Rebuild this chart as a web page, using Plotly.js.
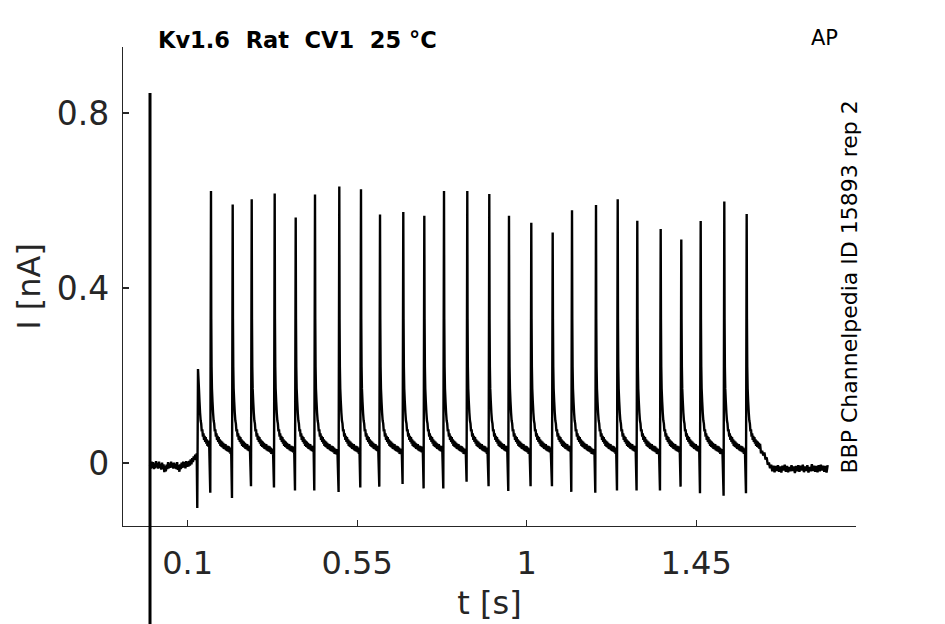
<!DOCTYPE html>
<html>
<head>
<meta charset="utf-8">
<script src="https://cdn.plot.ly/plotly-3.0.1.min.js"></script>
<style>html,body{margin:0;padding:0;background:#fff;}#chart{width:945px;height:624px;}</style>
</head>
<body>
<div id="chart"></div>
<script>
// ---- data ----
const xTickVals = [0.1, 0.55, 1, 1.45];
const xTickText = ["0.1", "0.55", "1", "1.45"];
const yTickVals = [0, 0.4, 0.8];
const yTickText = ["0", "0.4", "0.8"];

// stimulus artifact at t = 0
const artifactT = 0;
const artifactTop = 0.846;
const artifactBottom = -0.40;

// pre-stimulus baseline
const preT = [0.000,0.002,0.004,0.006,0.008,0.010,0.012,0.014,0.016,0.018,
  0.020,0.022,0.024,0.026,0.028,0.030,0.032,0.034,0.036,0.038,
  0.040,0.042,0.044,0.046,0.048,0.050,0.052,0.054,0.056,0.058,
  0.060,0.062,0.064,0.066,0.068,0.070,0.072,0.074,0.076,0.078,
  0.080,0.082,0.084,0.086,0.088,0.090,0.092,0.094,0.096,0.098,
  0.100,0.102,0.104,0.106,0.108,0.110,0.112,0.114,0.116,0.118,
  0.120,0.122,0.124];
const preI = [-0.004,-0.013,0.003,-0.011,0.002,-0.014,-0.001,-0.012,0.004,-0.010,
  0.000,-0.013,0.003,-0.011,-0.002,-0.015,0.001,-0.013,-0.003,-0.021,
  -0.007,-0.019,-0.004,-0.014,0.002,-0.012,-0.001,-0.011,0.003,-0.010,
  0.000,-0.013,0.001,-0.012,-0.002,-0.014,0.002,-0.016,-0.005,-0.020,
  -0.003,-0.014,0.001,-0.011,0.003,-0.010,0.002,-0.012,0.004,-0.009,
  0.003,-0.008,0.005,-0.006,0.008,-0.003,0.011,0.002,0.015,0.007,
  0.019,0.011,0.022];

// spikes: time of peak, peak current, preceding trough
const spikeT = [0.1274,0.1619,0.2195,0.2700,0.3310,0.3868,0.4380,0.5025,0.5601,0.6106,
  0.6724,0.7282,0.7805,0.8423,0.9007,0.9530,1.0122,1.0690,1.1203,1.1840,
  1.2416,1.2936,1.3557,1.4104,1.4619,1.5246,1.5840];
const spikePeak = [0.215,0.622,0.591,0.603,0.616,0.561,0.614,0.632,0.626,0.568,
  0.574,0.565,0.622,0.622,0.615,0.565,0.549,0.527,0.578,0.590,
  0.603,0.554,0.535,0.511,0.553,0.598,0.569];
const spikeTrough = [-0.103,-0.068,-0.080,-0.053,-0.056,-0.063,-0.063,-0.066,-0.056,-0.054,
  -0.048,-0.058,-0.058,-0.043,-0.053,-0.064,-0.053,-0.053,-0.066,-0.068,
  -0.063,-0.063,-0.063,-0.054,-0.069,-0.075,-0.069];

// decaying tail after a spike (time after peak, current)
const tailDt = [0.0007,0.0015,0.0025,0.004,0.0055,0.007,0.0085,0.010,0.0115,0.013,
  0.0145,0.016,0.0175,0.019,0.0205,0.022,0.0235,0.025,0.0265,0.028,
  0.0295,0.031,0.0325,0.034,0.0355,0.037,0.0385,0.040,0.0415,0.043,
  0.0445,0.046,0.0475,0.049,0.0505,0.052,0.0535,0.055,0.0565,0.058,
  0.0595,0.061];
const tailI = [0.33,0.22,0.17,0.14,0.115,0.097,0.090,0.072,0.077,0.060,
  0.068,0.053,0.062,0.048,0.059,0.044,0.054,0.039,0.051,0.037,
  0.049,0.035,0.046,0.032,0.044,0.031,0.043,0.029,0.040,0.027,
  0.039,0.026,0.038,0.024,0.035,0.021,0.033,0.020,0.032,0.019,
  0.030,0.018];

// post-stimulus baseline
const postT = [1.622,1.625,1.628,1.631,1.634,1.637,1.640,1.643,1.646,1.649,
  1.652,1.655,1.658,1.661,1.664,1.667,1.670,1.673,1.676,1.679,
  1.682,1.685,1.688,1.691,1.694,1.697,1.700,1.703,1.706,1.709,
  1.712,1.715,1.718,1.721,1.724,1.727,1.730,1.733,1.736,1.739,
  1.742,1.745,1.748,1.751,1.754,1.757,1.760,1.763,1.766,1.769,
  1.772,1.775,1.778,1.781,1.784,1.787,1.790,1.793,1.796,1.799];
const postI = [0.022,0.028,0.017,0.024,0.008,0.013,-0.004,0.001,-0.012,-0.004,
  -0.019,-0.006,-0.021,-0.007,-0.018,-0.005,-0.020,-0.008,-0.022,-0.006,
  -0.017,-0.004,-0.020,-0.007,-0.021,-0.009,-0.019,-0.005,-0.018,-0.008,
  -0.023,-0.007,-0.019,-0.005,-0.020,-0.006,-0.017,-0.004,-0.021,-0.008,
  -0.018,-0.005,-0.022,-0.009,-0.019,-0.003,-0.018,-0.006,-0.020,-0.007,
  -0.021,-0.005,-0.019,-0.004,-0.017,-0.006,-0.020,-0.007,-0.022,-0.005];

// ---- assemble the trace ----
const t = [], I = [];
for (let i = 0; i < preT.length; i++) { t.push(preT[i]); I.push(preI[i]); }
for (let k = 0; k < spikeT.length; k++) {
  const T = spikeT[k];
  t.push(T - 0.0019); I.push(spikeTrough[k]);
  t.push(T); I.push(spikePeak[k]);
  const limit = (k < spikeT.length - 1) ? spikeT[k + 1] - 0.0035 : postT[0] - 0.001;
  for (let j = 0; j < tailDt.length; j++) {
    if (T + tailDt[j] < limit && tailI[j] < spikePeak[k] - 0.02) { t.push(T + tailDt[j]); I.push(tailI[j]); }
  }
}
for (let i = 0; i < postT.length; i++) { t.push(postT[i]); I.push(postI[i]); }

const xRange = [-0.0717, 1.8742];
const yRange = [-0.144, 0.9509];
const toPaperY = v => (v - yRange[0]) / (yRange[1] - yRange[0]);

const axisColor = '#262626';
const fontFam = 'DejaVu Sans, sans-serif';

const data = [{
  type: 'scatter', mode: 'lines', x: t, y: I,
  line: {color: '#000000', width: 2.4, simplify: false}, hoverinfo: 'skip', showlegend: false
}];

const layout = {
  width: 945, height: 624,
  margin: {l: 123, r: 89, t: 47, b: 98, pad: 0},
  paper_bgcolor: '#ffffff', plot_bgcolor: '#ffffff',
  showlegend: false,
  font: {family: fontFam, color: axisColor},
  xaxis: {
    range: xRange, tickmode: 'array', tickvals: xTickVals, ticktext: xTickText,
    ticks: 'inside', ticklen: 6, tickwidth: 1.2, tickcolor: axisColor,
    showline: true, linecolor: axisColor, linewidth: 1.2, mirror: false,
    showgrid: false, zeroline: false, automargin: false, ticklabelstandoff: 8,
    tickfont: {family: fontFam, size: 32, color: axisColor},
    title: {text: 't [s]', font: {family: fontFam, size: 32, color: axisColor}, standoff: 11}
  },
  yaxis: {
    range: yRange, tickmode: 'array', tickvals: yTickVals, ticktext: yTickText,
    ticks: 'inside', ticklen: 6, tickwidth: 1.2, tickcolor: axisColor,
    showline: true, linecolor: axisColor, linewidth: 1.2, mirror: false,
    showgrid: false, zeroline: false, automargin: false, ticklabelstandoff: 6,
    tickfont: {family: fontFam, size: 33, color: axisColor},
    title: {text: 'I [nA]', font: {family: fontFam, size: 32, color: axisColor}, standoff: 6}
  },
  shapes: [{
    type: 'line', xref: 'x', yref: 'paper',
    x0: artifactT, x1: artifactT, y0: toPaperY(artifactTop), y1: toPaperY(artifactBottom),
    line: {color: '#000000', width: 3}
  }],
  annotations: [
    {text: 'Kv1.6\u00a0\u00a0Rat\u00a0\u00a0CV1\u00a0\u00a025\u00a0°C', xref: 'paper', yref: 'paper',
     x: 0.0450, y: 1.0146, xanchor: 'left', yanchor: 'middle', showarrow: false,
     font: {family: fontFam, size: 22.5, color: '#000000', weight: 'bold'}},
    {text: 'AP', xref: 'paper', yref: 'paper', x: 0.9577, y: 1.0188,
     xanchor: 'center', yanchor: 'middle', showarrow: false,
     font: {family: fontFam, size: 21, color: '#000000'}},
    {text: 'BBP Channelpedia ID 15893 rep 2', xref: 'paper', yref: 'paper',
     x: 0.9918, y: 0.5, xanchor: 'center', yanchor: 'middle', textangle: -90, showarrow: false,
     font: {family: fontFam, size: 22, color: '#000000'}}
  ]
};

Plotly.newPlot('chart', data, layout, {staticPlot: true, displayModeBar: false});
</script>
</body>
</html>
